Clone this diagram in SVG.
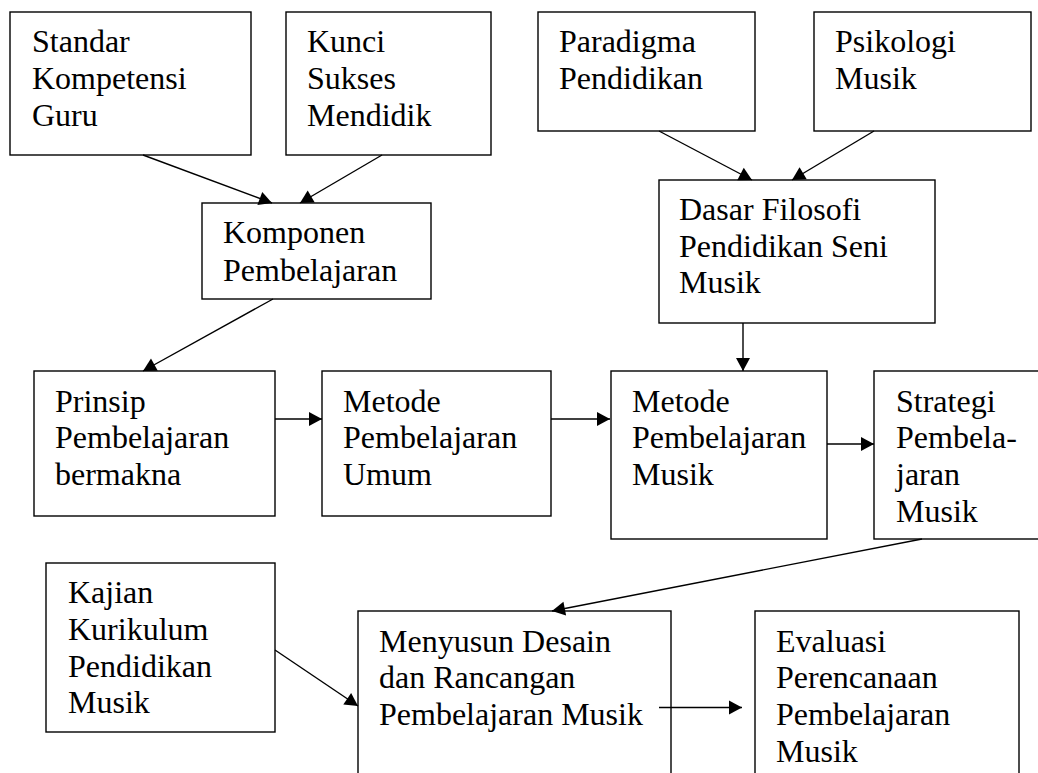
<svg xmlns="http://www.w3.org/2000/svg" width="1038" height="773" viewBox="0 0 1038 773">
<style>
rect{fill:#fff;stroke:#000;stroke-width:1.4}
text{font-family:"Liberation Serif","Times New Roman",serif;font-size:32px;fill:#000}
.c line{stroke:#000;stroke-width:1.4;marker-end:url(#ah)}
</style>
<defs>
<marker id="ah" markerUnits="userSpaceOnUse" markerWidth="14" markerHeight="14" refX="13" refY="7" orient="auto" overflow="visible">
<path d="M0,0 L13,7 L0,14 z" fill="#000"/>
</marker>
</defs>
<rect x="0" y="0" width="1038" height="773" style="stroke:none"/>
<g id="standar"><rect x="10" y="12" width="241" height="143"/>
<text x="32" y="52">Standar</text><text x="32" y="89">Kompetensi</text><text x="32" y="126">Guru</text></g>
<g id="kunci"><rect x="286" y="12" width="205" height="143"/>
<text x="307" y="52">Kunci</text><text x="307" y="89">Sukses</text><text x="307" y="126">Mendidik</text></g>
<g id="paradigma"><rect x="538" y="12" width="217" height="119"/>
<text x="559" y="52">Paradigma</text><text x="559" y="89">Pendidikan</text></g>
<g id="psikologi"><rect x="814" y="12" width="217" height="119"/>
<text x="835" y="52">Psikologi</text><text x="835" y="89">Musik</text></g>
<g id="komponen"><rect x="202" y="203" width="229" height="96"/>
<text x="223" y="243">Komponen</text><text x="223" y="281">Pembelajaran</text></g>
<g id="dasar"><rect x="659" y="180" width="276" height="143"/>
<text x="679" y="220">Dasar Filosofi</text><text x="679" y="257">Pendidikan Seni</text><text x="679" y="293">Musik</text></g>
<g id="prinsip"><rect x="34" y="371" width="241" height="145"/>
<text x="55" y="412">Prinsip</text><text x="55" y="448">Pembelajaran</text><text x="55" y="485">bermakna</text></g>
<g id="metode-umum"><rect x="322" y="371" width="229" height="145"/>
<text x="343" y="412">Metode</text><text x="343" y="448">Pembelajaran</text><text x="343" y="485">Umum</text></g>
<g id="metode-musik"><rect x="611" y="371" width="216" height="168"/>
<text x="632" y="412">Metode</text><text x="632" y="448">Pembelajaran</text><text x="632" y="485">Musik</text></g>
<g id="strategi"><rect x="874" y="371" width="180" height="168"/>
<text x="896" y="412">Strategi</text><text x="896" y="448">Pembela-</text><text x="896" y="485">jaran</text><text x="896" y="522">Musik</text></g>
<g id="kajian"><rect x="46" y="563" width="229" height="169"/>
<text x="68" y="603">Kajian</text><text x="68" y="640">Kurikulum</text><text x="68" y="677">Pendidikan</text><text x="68" y="713">Musik</text></g>
<g id="menyusun"><rect x="358" y="611" width="313" height="180"/>
<text x="379" y="652">Menyusun Desain</text><text x="379" y="688">dan Rancangan</text><text x="379" y="725">Pembelajaran Musik</text></g>
<g id="evaluasi"><rect x="755" y="611" width="264" height="180"/>
<text x="776" y="652">Evaluasi</text><text x="776" y="688">Perencanaan</text><text x="776" y="725">Pembelajaran</text><text x="776" y="762">Musik</text></g>
<g id="connectors" class="c">
<line x1="143" y1="155" x2="272" y2="203"/>
<line x1="382" y1="155" x2="300" y2="203"/>
<line x1="659" y1="131" x2="752" y2="180"/>
<line x1="874" y1="131" x2="792" y2="180"/>
<line x1="273" y1="299" x2="143" y2="371"/>
<line x1="743" y1="323" x2="743" y2="371"/>
<line x1="275" y1="419" x2="322" y2="419"/>
<line x1="551" y1="419" x2="610" y2="419"/>
<line x1="827" y1="444" x2="874" y2="444"/>
<line x1="922" y1="539" x2="552" y2="611"/>
<line x1="275" y1="650" x2="358" y2="706"/>
<line x1="659" y1="707.5" x2="742" y2="707.5"/>
</g>
</svg>
